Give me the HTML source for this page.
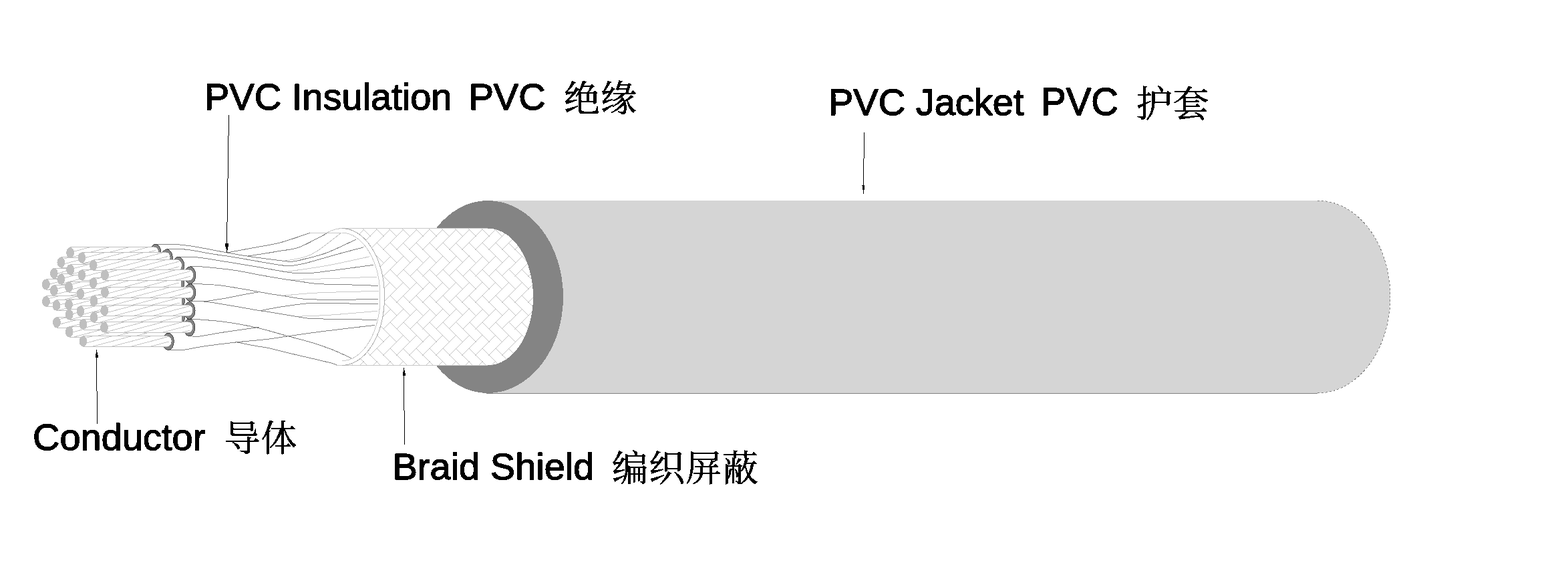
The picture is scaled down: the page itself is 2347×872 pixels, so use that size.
<!DOCTYPE html>
<html lang="zh"><head><meta charset="utf-8"><title>Cable structure</title>
<style>
html,body{margin:0;padding:0;background:#fff;}
body{width:2347px;height:872px;overflow:hidden;}
svg{display:block;}
text{white-space:pre;fill:#000;stroke:#000;stroke-linejoin:round;}
.lat{font-family:"Liberation Sans","Noto Serif CJK SC",sans-serif;stroke-width:1.4px;}
.cjk{font-family:"Liberation Serif","Noto Serif CJK SC",serif;stroke-width:0.6px;letter-spacing:1px;}
</style></head>
<body>
<svg role="img" aria-label="Cable structure diagram" width="2347" height="872" viewBox="0 0 2347 872">
<g id="jacket" shape-rendering="crispEdges">
<path d="M730,300 L1972,300 A109,144 0 0 1 1972,588 L730,588 Z" fill="#d5d5d5"/>
<path d="M728,588.5 L1972,588.5" stroke="#808080" stroke-width="1" fill="none"/>
<path d="M1972,300 A109,144 0 0 1 1972,588" stroke="#828282" stroke-width="1" stroke-dasharray="3 3" fill="none"/>
<path d="M730,300 A113,144 0 0 1 730,588 A110,144 0 0 1 730,300 Z" fill="#848484"/>
</g>
<g id="braid" shape-rendering="crispEdges">
<defs><clipPath id="bc"><path d="M512,341.6 L730,341.6 A68,102.4 0 0 1 730,546.4 L512,546.4 A63.5,102.4 0 0 0 512,341.6 Z"/></clipPath></defs>
<path d="M498,341.6 L730,341.6 A68,102.4 0 0 1 730,546.4 L503,546.4 Z" fill="#fff"/>
<path clip-path="url(#bc)" d="M454.6,255.5l30.9,-30.9M465.5,245l29.6,29.6M454.6,294.9l30.9,-30.9M465.5,284.4l29.6,29.6M454.6,334.4l30.9,-30.9M465.5,323.9l29.6,29.6M454.6,373.9l30.9,-30.9M465.5,363.4l29.6,29.6M454.6,413.4l30.9,-30.9M465.5,402.9l29.6,29.6M454.6,452.9l30.9,-30.9M465.5,442.4l29.6,29.6M454.6,492.4l30.9,-30.9M465.5,481.9l29.6,29.6M454.6,531.9l30.9,-30.9M465.5,521.4l29.6,29.6M454.6,571.3l30.9,-30.9M465.5,560.8l29.6,29.6M474.3,255.5l30.9,-30.9M485.2,245l29.6,29.6M474.3,294.9l30.9,-30.9M485.2,284.4l29.6,29.6M474.3,334.4l30.9,-30.9M485.2,323.9l29.6,29.6M474.3,373.9l30.9,-30.9M485.2,363.4l29.6,29.6M474.3,413.4l30.9,-30.9M485.2,402.9l29.6,29.6M474.3,452.9l30.9,-30.9M485.2,442.4l29.6,29.6M474.3,492.4l30.9,-30.9M485.2,481.9l29.6,29.6M474.3,531.9l30.9,-30.9M485.2,521.4l29.6,29.6M474.3,571.3l30.9,-30.9M485.2,560.8l29.6,29.6M494,255.5l30.9,-30.9M504.9,245l29.6,29.6M494,294.9l30.9,-30.9M504.9,284.4l29.6,29.6M494,334.4l30.9,-30.9M504.9,323.9l29.6,29.6M494,373.9l30.9,-30.9M504.9,363.4l29.6,29.6M494,413.4l30.9,-30.9M504.9,402.9l29.6,29.6M494,452.9l30.9,-30.9M504.9,442.4l29.6,29.6M494,492.4l30.9,-30.9M504.9,481.9l29.6,29.6M494,531.9l30.9,-30.9M504.9,521.4l29.6,29.6M494,571.3l30.9,-30.9M504.9,560.8l29.6,29.6M513.8,255.5l30.9,-30.9M524.7,245l29.6,29.6M513.8,294.9l30.9,-30.9M524.7,284.4l29.6,29.6M513.8,334.4l30.9,-30.9M524.7,323.9l29.6,29.6M513.8,373.9l30.9,-30.9M524.7,363.4l29.6,29.6M513.8,413.4l30.9,-30.9M524.7,402.9l29.6,29.6M513.8,452.9l30.9,-30.9M524.7,442.4l29.6,29.6M513.8,492.4l30.9,-30.9M524.7,481.9l29.6,29.6M513.8,531.9l30.9,-30.9M524.7,521.4l29.6,29.6M513.8,571.3l30.9,-30.9M524.7,560.8l29.6,29.6M533.5,255.5l30.9,-30.9M544.4,245l29.6,29.6M533.5,294.9l30.9,-30.9M544.4,284.4l29.6,29.6M533.5,334.4l30.9,-30.9M544.4,323.9l29.6,29.6M533.5,373.9l30.9,-30.9M544.4,363.4l29.6,29.6M533.5,413.4l30.9,-30.9M544.4,402.9l29.6,29.6M533.5,452.9l30.9,-30.9M544.4,442.4l29.6,29.6M533.5,492.4l30.9,-30.9M544.4,481.9l29.6,29.6M533.5,531.9l30.9,-30.9M544.4,521.4l29.6,29.6M533.5,571.3l30.9,-30.9M544.4,560.8l29.6,29.6M553.3,255.5l30.9,-30.9M564.2,245l29.6,29.6M553.3,294.9l30.9,-30.9M564.2,284.4l29.6,29.6M553.3,334.4l30.9,-30.9M564.2,323.9l29.6,29.6M553.3,373.9l30.9,-30.9M564.2,363.4l29.6,29.6M553.3,413.4l30.9,-30.9M564.2,402.9l29.6,29.6M553.3,452.9l30.9,-30.9M564.2,442.4l29.6,29.6M553.3,492.4l30.9,-30.9M564.2,481.9l29.6,29.6M553.3,531.9l30.9,-30.9M564.2,521.4l29.6,29.6M553.3,571.3l30.9,-30.9M564.2,560.8l29.6,29.6M573,255.5l30.9,-30.9M583.9,245l29.6,29.6M573,294.9l30.9,-30.9M583.9,284.4l29.6,29.6M573,334.4l30.9,-30.9M583.9,323.9l29.6,29.6M573,373.9l30.9,-30.9M583.9,363.4l29.6,29.6M573,413.4l30.9,-30.9M583.9,402.9l29.6,29.6M573,452.9l30.9,-30.9M583.9,442.4l29.6,29.6M573,492.4l30.9,-30.9M583.9,481.9l29.6,29.6M573,531.9l30.9,-30.9M583.9,521.4l29.6,29.6M573,571.3l30.9,-30.9M583.9,560.8l29.6,29.6M592.8,255.5l30.9,-30.9M603.7,245l29.6,29.6M592.8,294.9l30.9,-30.9M603.7,284.4l29.6,29.6M592.8,334.4l30.9,-30.9M603.7,323.9l29.6,29.6M592.8,373.9l30.9,-30.9M603.7,363.4l29.6,29.6M592.8,413.4l30.9,-30.9M603.7,402.9l29.6,29.6M592.8,452.9l30.9,-30.9M603.7,442.4l29.6,29.6M592.8,492.4l30.9,-30.9M603.7,481.9l29.6,29.6M592.8,531.9l30.9,-30.9M603.7,521.4l29.6,29.6M592.8,571.3l30.9,-30.9M603.7,560.8l29.6,29.6M612.5,255.5l30.9,-30.9M623.4,245l29.6,29.6M612.5,294.9l30.9,-30.9M623.4,284.4l29.6,29.6M612.5,334.4l30.9,-30.9M623.4,323.9l29.6,29.6M612.5,373.9l30.9,-30.9M623.4,363.4l29.6,29.6M612.5,413.4l30.9,-30.9M623.4,402.9l29.6,29.6M612.5,452.9l30.9,-30.9M623.4,442.4l29.6,29.6M612.5,492.4l30.9,-30.9M623.4,481.9l29.6,29.6M612.5,531.9l30.9,-30.9M623.4,521.4l29.6,29.6M612.5,571.3l30.9,-30.9M623.4,560.8l29.6,29.6M632.2,255.5l30.9,-30.9M643.1,245l29.6,29.6M632.2,294.9l30.9,-30.9M643.1,284.4l29.6,29.6M632.2,334.4l30.9,-30.9M643.1,323.9l29.6,29.6M632.2,373.9l30.9,-30.9M643.1,363.4l29.6,29.6M632.2,413.4l30.9,-30.9M643.1,402.9l29.6,29.6M632.2,452.9l30.9,-30.9M643.1,442.4l29.6,29.6M632.2,492.4l30.9,-30.9M643.1,481.9l29.6,29.6M632.2,531.9l30.9,-30.9M643.1,521.4l29.6,29.6M632.2,571.3l30.9,-30.9M643.1,560.8l29.6,29.6M652,255.5l30.9,-30.9M662.9,245l29.6,29.6M652,294.9l30.9,-30.9M662.9,284.4l29.6,29.6M652,334.4l30.9,-30.9M662.9,323.9l29.6,29.6M652,373.9l30.9,-30.9M662.9,363.4l29.6,29.6M652,413.4l30.9,-30.9M662.9,402.9l29.6,29.6M652,452.9l30.9,-30.9M662.9,442.4l29.6,29.6M652,492.4l30.9,-30.9M662.9,481.9l29.6,29.6M652,531.9l30.9,-30.9M662.9,521.4l29.6,29.6M652,571.3l30.9,-30.9M662.9,560.8l29.6,29.6M671.7,255.5l30.9,-30.9M682.6,245l29.6,29.6M671.7,294.9l30.9,-30.9M682.6,284.4l29.6,29.6M671.7,334.4l30.9,-30.9M682.6,323.9l29.6,29.6M671.7,373.9l30.9,-30.9M682.6,363.4l29.6,29.6M671.7,413.4l30.9,-30.9M682.6,402.9l29.6,29.6M671.7,452.9l30.9,-30.9M682.6,442.4l29.6,29.6M671.7,492.4l30.9,-30.9M682.6,481.9l29.6,29.6M671.7,531.9l30.9,-30.9M682.6,521.4l29.6,29.6M671.7,571.3l30.9,-30.9M682.6,560.8l29.6,29.6M691.5,255.5l30.9,-30.9M702.4,245l29.6,29.6M691.5,294.9l30.9,-30.9M702.4,284.4l29.6,29.6M691.5,334.4l30.9,-30.9M702.4,323.9l29.6,29.6M691.5,373.9l30.9,-30.9M702.4,363.4l29.6,29.6M691.5,413.4l30.9,-30.9M702.4,402.9l29.6,29.6M691.5,452.9l30.9,-30.9M702.4,442.4l29.6,29.6M691.5,492.4l30.9,-30.9M702.4,481.9l29.6,29.6M691.5,531.9l30.9,-30.9M702.4,521.4l29.6,29.6M691.5,571.3l30.9,-30.9M702.4,560.8l29.6,29.6M711.2,255.5l30.9,-30.9M722.1,245l29.6,29.6M711.2,294.9l30.9,-30.9M722.1,284.4l29.6,29.6M711.2,334.4l30.9,-30.9M722.1,323.9l29.6,29.6M711.2,373.9l30.9,-30.9M722.1,363.4l29.6,29.6M711.2,413.4l30.9,-30.9M722.1,402.9l29.6,29.6M711.2,452.9l30.9,-30.9M722.1,442.4l29.6,29.6M711.2,492.4l30.9,-30.9M722.1,481.9l29.6,29.6M711.2,531.9l30.9,-30.9M722.1,521.4l29.6,29.6M711.2,571.3l30.9,-30.9M722.1,560.8l29.6,29.6M731,255.5l30.9,-30.9M741.9,245l29.6,29.6M731,294.9l30.9,-30.9M741.9,284.4l29.6,29.6M731,334.4l30.9,-30.9M741.9,323.9l29.6,29.6M731,373.9l30.9,-30.9M741.9,363.4l29.6,29.6M731,413.4l30.9,-30.9M741.9,402.9l29.6,29.6M731,452.9l30.9,-30.9M741.9,442.4l29.6,29.6M731,492.4l30.9,-30.9M741.9,481.9l29.6,29.6M731,531.9l30.9,-30.9M741.9,521.4l29.6,29.6M731,571.3l30.9,-30.9M741.9,560.8l29.6,29.6M750.7,255.5l30.9,-30.9M761.6,245l29.6,29.6M750.7,294.9l30.9,-30.9M761.6,284.4l29.6,29.6M750.7,334.4l30.9,-30.9M761.6,323.9l29.6,29.6M750.7,373.9l30.9,-30.9M761.6,363.4l29.6,29.6M750.7,413.4l30.9,-30.9M761.6,402.9l29.6,29.6M750.7,452.9l30.9,-30.9M761.6,442.4l29.6,29.6M750.7,492.4l30.9,-30.9M761.6,481.9l29.6,29.6M750.7,531.9l30.9,-30.9M761.6,521.4l29.6,29.6M750.7,571.3l30.9,-30.9M761.6,560.8l29.6,29.6M770.4,255.5l30.9,-30.9M781.3,245l29.6,29.6M770.4,294.9l30.9,-30.9M781.3,284.4l29.6,29.6M770.4,334.4l30.9,-30.9M781.3,323.9l29.6,29.6M770.4,373.9l30.9,-30.9M781.3,363.4l29.6,29.6M770.4,413.4l30.9,-30.9M781.3,402.9l29.6,29.6M770.4,452.9l30.9,-30.9M781.3,442.4l29.6,29.6M770.4,492.4l30.9,-30.9M781.3,481.9l29.6,29.6M770.4,531.9l30.9,-30.9M781.3,521.4l29.6,29.6M770.4,571.3l30.9,-30.9M781.3,560.8l29.6,29.6M790.2,255.5l30.9,-30.9M801.1,245l29.6,29.6M790.2,294.9l30.9,-30.9M801.1,284.4l29.6,29.6M790.2,334.4l30.9,-30.9M801.1,323.9l29.6,29.6M790.2,373.9l30.9,-30.9M801.1,363.4l29.6,29.6M790.2,413.4l30.9,-30.9M801.1,402.9l29.6,29.6M790.2,452.9l30.9,-30.9M801.1,442.4l29.6,29.6M790.2,492.4l30.9,-30.9M801.1,481.9l29.6,29.6M790.2,531.9l30.9,-30.9M801.1,521.4l29.6,29.6M790.2,571.3l30.9,-30.9M801.1,560.8l29.6,29.6M809.9,255.5l30.9,-30.9M820.8,245l29.6,29.6M809.9,294.9l30.9,-30.9M820.8,284.4l29.6,29.6M809.9,334.4l30.9,-30.9M820.8,323.9l29.6,29.6M809.9,373.9l30.9,-30.9M820.8,363.4l29.6,29.6M809.9,413.4l30.9,-30.9M820.8,402.9l29.6,29.6M809.9,452.9l30.9,-30.9M820.8,442.4l29.6,29.6M809.9,492.4l30.9,-30.9M820.8,481.9l29.6,29.6M809.9,531.9l30.9,-30.9M820.8,521.4l29.6,29.6M809.9,571.3l30.9,-30.9M820.8,560.8l29.6,29.6M829.7,255.5l30.9,-30.9M840.6,245l29.6,29.6M829.7,294.9l30.9,-30.9M840.6,284.4l29.6,29.6M829.7,334.4l30.9,-30.9M840.6,323.9l29.6,29.6M829.7,373.9l30.9,-30.9M840.6,363.4l29.6,29.6M829.7,413.4l30.9,-30.9M840.6,402.9l29.6,29.6M829.7,452.9l30.9,-30.9M840.6,442.4l29.6,29.6M829.7,492.4l30.9,-30.9M840.6,481.9l29.6,29.6M829.7,531.9l30.9,-30.9M840.6,521.4l29.6,29.6M829.7,571.3l30.9,-30.9M840.6,560.8l29.6,29.6" stroke="#ababab" stroke-width="0.7" fill="none"/>
<path d="M509,341.6 L730,341.6 M503,546.4 L730,546.4" stroke="#c8c8c8" stroke-width="1" fill="none"/>
<path d="M512,341.6 A63.5,102.4 0 0 1 512,546.4" stroke="#ababab" stroke-width="1" fill="none"/>
<path d="M512,348.3 A57,95.7 0 0 1 512,539.7" stroke="#c8c8c8" stroke-width="1" fill="none"/>
<path d="M488.8,348.3 C490.6,347.5 496.4,344.7 499.8,343.6 C503.2,342.5 507.8,342 509.4,341.7" stroke="#c8c8c8" stroke-width="1" fill="none"/>
<path d="M464,348.3 L511,348.3" stroke="#c8c8c8" stroke-width="1" fill="none"/>
</g>
<g id="wires" fill="none" shape-rendering="crispEdges">
<path d="M424.1,390.5 C429.2,389.6 445.9,387.5 454.4,385 C462.9,382.5 465.8,381.3 475,375.4 C484.2,369.4 503.7,353.6 509.4,349.3 M428.3,406.4 C438.4,404.9 467.9,401.2 488.8,397.4 C509.7,393.6 542.7,386 553.5,383.7 M431,418.8 C440.6,418.4 466.7,417.5 488.8,416.7 C510.9,415.9 551.3,414.6 563.8,414.2 M425.5,442.1 C433.8,441.4 451.5,439.1 475,438 C498.5,436.9 551.2,435.8 566.5,435.3 M444,473.3 C452.7,472.9 476.2,472.4 496.4,471 C516.6,469.6 553.7,466.2 565.2,465.2" stroke="#c8c8c8" stroke-width="1"/>
<path d="M231.9,365.4 C237.2,365.4 253.7,365 264,365.6 C274.3,366.2 281.2,367.2 293.8,369.3 C306.4,371.4 326.3,375.5 339.7,377.9 C353.1,380.3 359.9,381.6 374,383.7 C388.1,385.8 415.7,389.2 424,390.3 M250.2,372.4 C255.2,372.5 268.9,372.1 280,373.3 C291.1,374.5 304.8,377.8 316.7,379.7 C328.6,381.6 337.2,382.5 351.1,384.8 C365,387.1 387.7,391.3 400,393.4 C412.3,395.5 418.7,396.5 425,397.2 C431.3,397.9 431.8,398.2 437.9,397.4 C443.9,396.6 450.5,395.4 461.3,392.6 C472.1,389.9 488.9,384.7 502.6,380.9 C516.4,377.1 536.9,371.7 543.8,369.9 M370.6,383.1 C375.5,382.4 391.8,379.9 400,378.6 C408.2,377.3 412.1,376.6 420,375.1 C427.9,373.7 436,374.2 447.5,369.9 C459,365.6 481.9,352.7 488.8,349.3 M339.7,377.9 C346.4,376.7 366.6,373 380,370.5 C393.4,368 406,366.4 420,362.7 C434,359 456.7,350.7 464,348.3 M424.1,390.5 C426.4,390.6 432.8,391.6 437.9,391.2 C442.9,390.8 445.9,390 454.4,387.8 C462.9,385.6 475.7,383.1 488.8,378.2 C501.9,373.3 525.5,361.5 532.8,358.2 M268.6,384.6 C273.2,384.7 284.2,383.8 296.1,385 C308,386.2 325.7,389.5 339.7,391.7 C353.7,393.9 366.6,396 380,398.3 C393.4,400.6 409.9,403.7 420,405.4 C430.1,407.1 433,407.9 440.6,408.4 C448.2,408.9 457.4,408.8 465.4,408.4 C473.4,407.9 473.2,407.7 488.8,405.7 C504.4,403.7 547.3,397.9 559,396.3 M284.6,398.3 C288.1,398.4 294.2,398.2 305.3,399.2 C316.4,400.2 337,402.2 351.1,404.3 C365.2,406.4 378.5,409.4 390,411.5 C401.5,413.6 410.4,415.1 420,416.7 C429.6,418.2 437.9,419.5 447.5,420.8 C457.1,422.1 465.2,423.9 477.8,424.7 C490.4,425.5 508.5,425.4 523.2,425.9 C537.9,426.3 558.8,427.1 565.9,427.4 M289.2,424.4 C295.7,424.8 314,425.1 328.2,426.7 C342.4,428.3 361,431.9 374.1,434.1 C387.2,436.3 398.4,438.6 406.9,440 C415.4,441.4 417,441.4 425,442.6 C433,443.8 443.2,446.2 455.1,447.2 C467,448.1 477.9,448.2 496.4,448.3 C514.9,448.4 554.3,447.7 565.9,447.6 M285.8,450.9 C289.4,450.8 298.6,451.4 307.6,450.5 C316.6,449.6 329.6,447.4 339.7,445.7 C349.8,443.9 360.3,441.5 368.3,440 C376.3,438.5 384.6,437.2 387.8,436.7 M285.8,450.9 C289.4,450.9 298.6,450.3 307.6,451.2 C316.6,452.1 326.7,454 339.7,456.1 C352.7,458.2 375.6,462.4 385.6,464.1 C395.7,465.8 390.7,464.7 400,466.2 C409.3,467.7 430.5,471.3 441.3,473 C452.1,474.7 454.4,475.8 464.7,476.5 C475,477.2 486.7,476.9 503.2,477.2 C519.7,477.5 553.7,478.3 563.8,478.5 M392.4,464.1 C397.8,463.1 412.7,460.1 425,458.3 C437.3,456.5 452.8,454.1 466.1,453.4 C479.4,452.6 488,453.6 504.6,453.8 C521.2,454 555.7,454.4 565.9,454.5 M286.9,477.3 C290,477.5 296.5,477.6 305.3,478.4 C314.1,479.2 326.3,479.9 339.7,481.9 C353.1,483.9 370.5,486.9 385.6,490.4 C400.7,493.8 416.9,499 430.3,502.6 C443.7,506.2 455.1,508.9 466.1,512.2 C477.1,515.5 486.4,518.7 496.4,522.6 C506.4,526.5 521,533.5 525.9,535.7 M288.1,503.4 C289.4,503.4 287.5,504.6 296.1,503.4 C304.7,502.2 324.4,498.5 339.7,496.2 C355,493.9 379.8,490.4 387.8,489.3 M253.7,523.5 C256.9,523.5 264.6,524.4 273.2,523.5 C281.8,522.6 292.3,519.9 305.3,518 C318.3,516.1 335.3,514 351.1,512.2 C366.9,510.4 386.8,508.9 400,507.4 C413.2,505.9 416.5,504.9 430.3,503 C444.1,501.1 460.8,498.5 482.6,495.7 C504.4,492.9 547.9,487.9 561,486.4 M352.3,511.4 C357.9,512.5 377.7,516.5 385.6,518 C393.6,519.5 390.7,518.2 400,520.2 C409.3,522.2 425.2,526.4 441.3,530.2 C457.4,534 486.1,540.5 496.4,543.2 C506.7,545.9 502.1,545.8 503.2,546.3" stroke="#828282" stroke-width="1"/>
</g>
<g id="conductor" shape-rendering="crispEdges">
<ellipse cx="196.4" cy="425.7" rx="8.4" ry="12.9" fill="#848484" stroke="#2a2a2a" stroke-width="0.8"/>
<path d="M68.9,417.5 L195.2,417.5 A5.9,7.9 0 0 1 195.2,433.3 L68.9,433.3 Z" fill="#fff"/>
<path d="M68.9,418.8L73.9,417.5M68.9,426.5L102.9,417.5M72.3,433.3L131.9,417.5M101.3,433.3L160.9,417.5M130.3,433.3L189.9,417.5M159.3,433.3L197.2,423.3M188.3,433.3L197.2,430.9" stroke="#c6c6c6" stroke-width="1" fill="none"/>
<path d="M68.9,417.5 L195.2,417.5 M68.9,433.3 L195.2,433.3" stroke="#bfbfbf" stroke-width="1" fill="none"/>
<ellipse cx="68.9" cy="425.4" rx="5.9" ry="7.9" fill="#bfbfbf"/>
<ellipse cx="196.4" cy="451.1" rx="8.4" ry="12.9" fill="#848484" stroke="#2a2a2a" stroke-width="0.8"/>
<path d="M68.9,442.9 L195.2,442.9 A5.9,7.9 0 0 1 195.2,458.7 L68.9,458.7 Z" fill="#fff"/>
<path d="M68.9,447.7L86.9,442.9M68.9,455.4L115.9,442.9M85.3,458.7L144.9,442.9M114.3,458.7L173.9,442.9M143.3,458.7L197.2,444.4M172.3,458.7L197.2,452.1" stroke="#c6c6c6" stroke-width="1" fill="none"/>
<path d="M68.9,442.9 L195.2,442.9 M68.9,458.7 L195.2,458.7" stroke="#bfbfbf" stroke-width="1" fill="none"/>
<ellipse cx="68.9" cy="450.8" rx="5.9" ry="7.9" fill="#bfbfbf"/>
<ellipse cx="208.3" cy="409.3" rx="8.4" ry="12.9" fill="#848484" stroke="#2a2a2a" stroke-width="0.8"/>
<path d="M80.8,401.1 L207.1,401.1 A5.9,7.9 0 0 1 207.1,416.9 L80.8,416.9 Z" fill="#fff"/>
<path d="M80.8,402.7L86.8,401.1M80.8,410.4L115.8,401.1M85.2,416.9L144.8,401.1M114.2,416.9L173.8,401.1M143.2,416.9L202.8,401.1M172.2,416.9L209.1,407.1M201.2,416.9L209.1,414.8" stroke="#c6c6c6" stroke-width="1" fill="none"/>
<path d="M80.8,401.1 L207.1,401.1 M80.8,416.9 L207.1,416.9" stroke="#bfbfbf" stroke-width="1" fill="none"/>
<ellipse cx="80.8" cy="409" rx="5.9" ry="7.9" fill="#bfbfbf"/>
<ellipse cx="208.3" cy="434.6" rx="8.4" ry="12.9" fill="#848484" stroke="#2a2a2a" stroke-width="0.8"/>
<path d="M80.8,426.4 L207.1,426.4 A5.9,7.9 0 0 1 207.1,442.2 L80.8,442.2 Z" fill="#fff"/>
<path d="M80.8,433.3L106.8,426.4M80.8,441L135.8,426.4M105.2,442.2L164.8,426.4M134.2,442.2L193.8,426.4M163.2,442.2L209.1,430M192.2,442.2L209.1,437.7" stroke="#c6c6c6" stroke-width="1" fill="none"/>
<path d="M80.8,426.4 L207.1,426.4 M80.8,442.2 L207.1,442.2" stroke="#bfbfbf" stroke-width="1" fill="none"/>
<ellipse cx="80.8" cy="434.3" rx="5.9" ry="7.9" fill="#bfbfbf"/>
<ellipse cx="211.9" cy="457.1" rx="8.4" ry="12.9" fill="#848484" stroke="#2a2a2a" stroke-width="0.8"/>
<path d="M84.4,448.9 L210.7,448.9 A5.9,7.9 0 0 1 210.7,464.7 L84.4,464.7 Z" fill="#fff"/>
<path d="M84.4,457.4L116.4,448.9M85.8,464.7L145.4,448.9M114.8,464.7L174.4,448.9M143.8,464.7L203.4,448.9M172.8,464.7L212.7,454.1M201.8,464.7L212.7,461.8" stroke="#c6c6c6" stroke-width="1" fill="none"/>
<path d="M84.4,448.9 L210.7,448.9 M84.4,464.7 L210.7,464.7" stroke="#bfbfbf" stroke-width="1" fill="none"/>
<ellipse cx="84.4" cy="456.8" rx="5.9" ry="7.9" fill="#bfbfbf"/>
<ellipse cx="212.4" cy="482.6" rx="8.4" ry="12.9" fill="#848484" stroke="#2a2a2a" stroke-width="0.8"/>
<path d="M84.9,474.4 L211.2,474.4 A5.9,7.9 0 0 1 211.2,490.2 L84.9,490.2 Z" fill="#fff"/>
<path d="M84.9,478.6L100.9,474.4M84.9,486.3L129.9,474.4M99.3,490.2L158.9,474.4M128.3,490.2L187.9,474.4M157.3,490.2L213.2,475.4M186.3,490.2L213.2,483.1" stroke="#c6c6c6" stroke-width="1" fill="none"/>
<path d="M84.9,474.4 L211.2,474.4 M84.9,490.2 L211.2,490.2" stroke="#bfbfbf" stroke-width="1" fill="none"/>
<ellipse cx="84.9" cy="482.3" rx="5.9" ry="7.9" fill="#bfbfbf"/>
<ellipse cx="218.8" cy="392.8" rx="8.4" ry="12.9" fill="#848484" stroke="#2a2a2a" stroke-width="0.8"/>
<path d="M91.3,384.6 L217.6,384.6 A5.9,7.9 0 0 1 217.6,400.4 L91.3,400.4 Z" fill="#fff"/>
<path d="M91.3,388.3L105.3,384.6M91.3,396L134.3,384.6M103.7,400.4L163.3,384.6M132.7,400.4L192.3,384.6M161.7,400.4L219.6,385.1M190.7,400.4L219.6,392.7" stroke="#c6c6c6" stroke-width="1" fill="none"/>
<path d="M91.3,384.6 L217.6,384.6 M91.3,400.4 L217.6,400.4" stroke="#bfbfbf" stroke-width="1" fill="none"/>
<ellipse cx="91.3" cy="392.5" rx="5.9" ry="7.9" fill="#bfbfbf"/>
<ellipse cx="218.8" cy="418.1" rx="8.4" ry="12.9" fill="#848484" stroke="#2a2a2a" stroke-width="0.8"/>
<path d="M91.3,409.9 L217.6,409.9 A5.9,7.9 0 0 1 217.6,425.7 L91.3,425.7 Z" fill="#fff"/>
<path d="M91.3,417.1L118.3,409.9M91.3,424.7L147.3,409.9M116.7,425.7L176.3,409.9M145.7,425.7L205.3,409.9M174.7,425.7L219.6,413.8M203.7,425.7L219.6,421.5" stroke="#c6c6c6" stroke-width="1" fill="none"/>
<path d="M91.3,409.9 L217.6,409.9 M91.3,425.7 L217.6,425.7" stroke="#bfbfbf" stroke-width="1" fill="none"/>
<ellipse cx="91.3" cy="417.8" rx="5.9" ry="7.9" fill="#bfbfbf"/>
<ellipse cx="230.5" cy="429.7" rx="8.4" ry="12.9" fill="#848484" stroke="#2a2a2a" stroke-width="0.8"/>
<path d="M103,421.5 L229.3,421.5 A5.9,7.9 0 0 1 229.3,437.3 L103,437.3 Z" fill="#fff"/>
<path d="M103,426.5L122,421.5M103,434.2L151,421.5M120.4,437.3L180,421.5M149.4,437.3L209,421.5M178.4,437.3L231.3,423.3M207.4,437.3L231.3,431" stroke="#c6c6c6" stroke-width="1" fill="none"/>
<path d="M103,421.5 L229.3,421.5 M103,437.3 L229.3,437.3" stroke="#bfbfbf" stroke-width="1" fill="none"/>
<ellipse cx="103" cy="429.4" rx="5.9" ry="7.9" fill="#bfbfbf"/>
<ellipse cx="230.5" cy="455.8" rx="8.4" ry="12.9" fill="#848484" stroke="#2a2a2a" stroke-width="0.8"/>
<path d="M103,447.6 L229.3,447.6 A5.9,7.9 0 0 1 229.3,463.4 L103,463.4 Z" fill="#fff"/>
<path d="M103,450.2L113,447.6M103,457.9L142,447.6M111.4,463.4L171,447.6M140.4,463.4L200,447.6M169.4,463.4L229,447.6M198.4,463.4L231.3,454.7M227.4,463.4L231.3,462.4" stroke="#c6c6c6" stroke-width="1" fill="none"/>
<path d="M103,447.6 L229.3,447.6 M103,463.4 L229.3,463.4" stroke="#bfbfbf" stroke-width="1" fill="none"/>
<ellipse cx="103" cy="455.5" rx="5.9" ry="7.9" fill="#bfbfbf"/>
<ellipse cx="231.2" cy="470.8" rx="8.4" ry="12.9" fill="#848484" stroke="#2a2a2a" stroke-width="0.8"/>
<path d="M103.7,462.6 L230,462.6 A5.9,7.9 0 0 1 230,478.4 L103.7,478.4 Z" fill="#fff"/>
<path d="M103.7,470.8L134.7,462.6M104.1,478.4L163.7,462.6M133.1,478.4L192.7,462.6M162.1,478.4L221.7,462.6M191.1,478.4L232,467.6M220.1,478.4L232,475.2" stroke="#c6c6c6" stroke-width="1" fill="none"/>
<path d="M103.7,462.6 L230,462.6 M103.7,478.4 L230,478.4" stroke="#bfbfbf" stroke-width="1" fill="none"/>
<ellipse cx="103.7" cy="470.5" rx="5.9" ry="7.9" fill="#bfbfbf"/>
<path d="M103.7,488.4 L230,488.4 A5.9,7.9 0 0 1 230,504.2 L103.7,504.2 Z" fill="#fff"/>
<path d="M103.7,490.5L111.7,488.4M103.7,498.2L140.7,488.4M110.1,504.2L169.7,488.4M139.1,504.2L198.7,488.4M168.1,504.2L227.7,488.4M197.1,504.2L232,494.9M226.1,504.2L232,502.6" stroke="#c6c6c6" stroke-width="1" fill="none"/>
<path d="M103.7,488.4 L230,488.4 M103.7,504.2 L230,504.2" stroke="#bfbfbf" stroke-width="1" fill="none"/>
<ellipse cx="103.7" cy="496.3" rx="5.9" ry="7.9" fill="#bfbfbf"/>
<ellipse cx="232.6" cy="378.1" rx="8.4" ry="12.9" fill="#848484" stroke="#2a2a2a" stroke-width="0.8"/>
<path d="M105.1,369.9 L231.4,369.9 A5.9,7.9 0 0 1 231.4,385.7 L105.1,385.7 Z" fill="#fff"/>
<path d="M105.1,377.6L134.1,369.9M105.1,385.3L163.1,369.9M132.5,385.7L192.1,369.9M161.5,385.7L221.1,369.9M190.5,385.7L233.4,374.3M219.5,385.7L233.4,382" stroke="#c6c6c6" stroke-width="1" fill="none"/>
<path d="M105.1,369.9 L231.4,369.9 M105.1,385.7 L231.4,385.7" stroke="#bfbfbf" stroke-width="1" fill="none"/>
<ellipse cx="105.1" cy="377.8" rx="5.9" ry="7.9" fill="#bfbfbf"/>
<ellipse cx="232.6" cy="403.7" rx="8.4" ry="12.9" fill="#848484" stroke="#2a2a2a" stroke-width="0.8"/>
<path d="M105.1,395.5 L231.4,395.5 A5.9,7.9 0 0 1 231.4,411.3 L105.1,411.3 Z" fill="#fff"/>
<path d="M105.1,402.9L133.1,395.5M105.1,410.6L162.1,395.5M131.5,411.3L191.1,395.5M160.5,411.3L220.1,395.5M189.5,411.3L233.4,399.7M218.5,411.3L233.4,407.3" stroke="#c6c6c6" stroke-width="1" fill="none"/>
<path d="M105.1,395.5 L231.4,395.5 M105.1,411.3 L231.4,411.3" stroke="#bfbfbf" stroke-width="1" fill="none"/>
<ellipse cx="105.1" cy="403.4" rx="5.9" ry="7.9" fill="#bfbfbf"/>
<ellipse cx="247.9" cy="439.8" rx="8.4" ry="12.9" fill="#848484" stroke="#2a2a2a" stroke-width="0.8"/>
<path d="M120.4,431.6 L246.7,431.6 A5.9,7.9 0 0 1 246.7,447.4 L120.4,447.4 Z" fill="#fff"/>
<path d="M120.4,432.7L124.4,431.6M120.4,440.3L153.4,431.6M122.8,447.4L182.4,431.6M151.8,447.4L211.4,431.6M180.8,447.4L240.4,431.6M209.8,447.4L248.7,437.1M238.8,447.4L248.7,444.8" stroke="#c6c6c6" stroke-width="1" fill="none"/>
<path d="M120.4,431.6 L246.7,431.6 M120.4,447.4 L246.7,447.4" stroke="#bfbfbf" stroke-width="1" fill="none"/>
<ellipse cx="120.4" cy="439.5" rx="5.9" ry="7.9" fill="#bfbfbf"/>
<ellipse cx="247.9" cy="465.6" rx="8.4" ry="12.9" fill="#848484" stroke="#2a2a2a" stroke-width="0.8"/>
<path d="M120.4,457.4 L246.7,457.4 A5.9,7.9 0 0 1 246.7,473.2 L120.4,473.2 Z" fill="#fff"/>
<path d="M120.4,463.8L144.4,457.4M120.4,471.4L173.4,457.4M142.8,473.2L202.4,457.4M171.8,473.2L231.4,457.4M200.8,473.2L248.7,460.5M229.8,473.2L248.7,468.2" stroke="#c6c6c6" stroke-width="1" fill="none"/>
<path d="M120.4,457.4 L246.7,457.4 M120.4,473.2 L246.7,473.2" stroke="#bfbfbf" stroke-width="1" fill="none"/>
<ellipse cx="120.4" cy="465.3" rx="5.9" ry="7.9" fill="#bfbfbf"/>
<ellipse cx="249.9" cy="385.6" rx="8.4" ry="12.9" fill="#848484" stroke="#2a2a2a" stroke-width="0.8"/>
<path d="M122.4,377.4 L248.7,377.4 A5.9,7.9 0 0 1 248.7,393.2 L122.4,393.2 Z" fill="#fff"/>
<path d="M122.4,379.3L129.4,377.4M122.4,386.9L158.4,377.4M127.8,393.2L187.4,377.4M156.8,393.2L216.4,377.4M185.8,393.2L245.4,377.4M214.8,393.2L250.7,383.7M243.8,393.2L250.7,391.4" stroke="#c6c6c6" stroke-width="1" fill="none"/>
<path d="M122.4,377.4 L248.7,377.4 M122.4,393.2 L248.7,393.2" stroke="#bfbfbf" stroke-width="1" fill="none"/>
<ellipse cx="122.4" cy="385.3" rx="5.9" ry="7.9" fill="#bfbfbf"/>
<ellipse cx="249.9" cy="411.6" rx="8.4" ry="12.9" fill="#848484" stroke="#2a2a2a" stroke-width="0.8"/>
<path d="M122.4,403.4 L248.7,403.4 A5.9,7.9 0 0 1 248.7,419.2 L122.4,419.2 Z" fill="#fff"/>
<path d="M122.4,406.8L135.4,403.4M122.4,414.5L164.4,403.4M133.8,419.2L193.4,403.4M162.8,419.2L222.4,403.4M191.8,419.2L250.7,403.6M220.8,419.2L250.7,411.3" stroke="#c6c6c6" stroke-width="1" fill="none"/>
<path d="M122.4,403.4 L248.7,403.4 M122.4,419.2 L248.7,419.2" stroke="#bfbfbf" stroke-width="1" fill="none"/>
<ellipse cx="122.4" cy="411.3" rx="5.9" ry="7.9" fill="#bfbfbf"/>
<ellipse cx="251.9" cy="510.8" rx="8.4" ry="12.9" fill="#848484" stroke="#2a2a2a" stroke-width="0.8"/>
<path d="M124.4,502.6 L250.7,502.6 A5.9,7.9 0 0 1 250.7,518.4 L124.4,518.4 Z" fill="#fff"/>
<path d="M124.4,506.6L139.4,502.6M124.4,514.3L168.4,502.6M137.8,518.4L197.4,502.6M166.8,518.4L226.4,502.6M195.8,518.4L252.7,503.3M224.8,518.4L252.7,511" stroke="#c6c6c6" stroke-width="1" fill="none"/>
<path d="M124.4,502.6 L250.7,502.6 M124.4,518.4 L250.7,518.4" stroke="#bfbfbf" stroke-width="1" fill="none"/>
<ellipse cx="124.4" cy="510.5" rx="5.9" ry="7.9" fill="#bfbfbf"/>
<ellipse cx="252" cy="485.4" rx="8.4" ry="12.9" fill="#848484" stroke="#2a2a2a" stroke-width="0.8"/>
<path d="M124.5,477.2 L250.8,477.2 A5.9,7.9 0 0 1 250.8,493 L124.5,493 Z" fill="#fff"/>
<path d="M124.5,483.3L147.5,477.2M124.5,491L176.5,477.2M145.9,493L205.5,477.2M174.9,493L234.5,477.2M203.9,493L252.8,480M232.9,493L252.8,487.7" stroke="#c6c6c6" stroke-width="1" fill="none"/>
<path d="M124.5,477.2 L250.8,477.2 M124.5,493 L250.8,493" stroke="#bfbfbf" stroke-width="1" fill="none"/>
<ellipse cx="124.5" cy="485.1" rx="5.9" ry="7.9" fill="#bfbfbf"/>
<ellipse cx="267.2" cy="397" rx="8.4" ry="12.9" fill="#848484" stroke="#2a2a2a" stroke-width="0.8"/>
<path d="M139.7,388.8 L266,388.8 A5.9,7.9 0 0 1 266,404.6 L139.7,404.6 Z" fill="#fff"/>
<path d="M139.7,394.4L160.7,388.8M139.7,402L189.7,388.8M159.1,404.6L218.7,388.8M188.1,404.6L247.7,388.8M217.1,404.6L268,391.1M246.1,404.6L268,398.8" stroke="#c6c6c6" stroke-width="1" fill="none"/>
<path d="M139.7,388.8 L266,388.8 M139.7,404.6 L266,404.6" stroke="#bfbfbf" stroke-width="1" fill="none"/>
<ellipse cx="139.7" cy="396.7" rx="5.9" ry="7.9" fill="#bfbfbf"/>
<ellipse cx="267.2" cy="423.5" rx="8.4" ry="12.9" fill="#848484" stroke="#2a2a2a" stroke-width="0.8"/>
<path d="M139.7,415.3 L270.9,415.3 L270.9,431.1 L139.7,431.1 Z" fill="#fff"/>
<path d="M139.7,418.5L151.7,415.3M139.7,426.2L180.7,415.3M150.1,431.1L209.7,415.3M179.1,431.1L238.7,415.3M208.1,431.1L267.7,415.3M237.1,431.1L268,422.9" stroke="#c6c6c6" stroke-width="1" fill="none"/>
<path d="M139.7,415.3 L266,415.3 M139.7,431.1 L266,431.1" stroke="#bfbfbf" stroke-width="1" fill="none"/>
<ellipse cx="139.7" cy="423.2" rx="5.9" ry="7.9" fill="#bfbfbf"/>
<ellipse cx="268" cy="450.1" rx="8.4" ry="12.9" fill="#848484" stroke="#2a2a2a" stroke-width="0.8"/>
<path d="M140.5,441.9 L271.7,441.9 L271.7,457.7 L140.5,457.7 Z" fill="#fff"/>
<path d="M140.5,448.5L165.5,441.9M140.5,456.2L194.5,441.9M163.9,457.7L223.5,441.9M192.9,457.7L252.5,441.9M221.9,457.7L268.8,445.3M250.9,457.7L268.8,453" stroke="#c6c6c6" stroke-width="1" fill="none"/>
<path d="M140.5,441.9 L266.8,441.9 M140.5,457.7 L266.8,457.7" stroke="#bfbfbf" stroke-width="1" fill="none"/>
<ellipse cx="140.5" cy="449.8" rx="5.9" ry="7.9" fill="#bfbfbf"/>
<ellipse cx="268" cy="474.9" rx="8.4" ry="12.9" fill="#848484" stroke="#2a2a2a" stroke-width="0.8"/>
<path d="M140.5,466.7 L271.7,466.7 L271.7,482.5 L140.5,482.5 Z" fill="#fff"/>
<path d="M140.5,469.1L149.5,466.7M140.5,476.8L178.5,466.7M147.9,482.5L207.5,466.7M176.9,482.5L236.5,466.7M205.9,482.5L265.5,466.7M234.9,482.5L268.8,473.5M263.9,482.5L268.8,481.2" stroke="#c6c6c6" stroke-width="1" fill="none"/>
<path d="M140.5,466.7 L266.8,466.7 M140.5,482.5 L266.8,482.5" stroke="#bfbfbf" stroke-width="1" fill="none"/>
<ellipse cx="140.5" cy="474.6" rx="5.9" ry="7.9" fill="#bfbfbf"/>
<ellipse cx="283.5" cy="489.9" rx="8.4" ry="12.9" fill="#848484" stroke="#2a2a2a" stroke-width="0.8"/>
<path d="M156,481.7 L282.3,481.7 A5.9,7.9 0 0 1 282.3,497.5 L156,497.5 Z" fill="#fff"/>
<path d="M156,489.6L186,481.7M156,497.3L215,481.7M184.4,497.5L244,481.7M213.4,497.5L273,481.7M242.4,497.5L284.3,486.4M271.4,497.5L284.3,494.1" stroke="#c6c6c6" stroke-width="1" fill="none"/>
<path d="M156,481.7 L282.3,481.7 M156,497.5 L282.3,497.5" stroke="#bfbfbf" stroke-width="1" fill="none"/>
<ellipse cx="156" cy="489.6" rx="5.9" ry="7.9" fill="#bfbfbf"/>
<ellipse cx="283.7" cy="464.6" rx="8.4" ry="12.9" fill="#848484" stroke="#2a2a2a" stroke-width="0.8"/>
<path d="M156.2,456.4 L282.5,456.4 A5.9,7.9 0 0 1 282.5,472.2 L156.2,472.2 Z" fill="#fff"/>
<path d="M156.2,460.9L173.2,456.4M156.2,468.6L202.2,456.4M171.6,472.2L231.2,456.4M200.6,472.2L260.2,456.4M229.6,472.2L284.5,457.6M258.6,472.2L284.5,465.3" stroke="#c6c6c6" stroke-width="1" fill="none"/>
<path d="M156.2,456.4 L282.5,456.4 M156.2,472.2 L282.5,472.2" stroke="#bfbfbf" stroke-width="1" fill="none"/>
<ellipse cx="156.2" cy="464.3" rx="5.9" ry="7.9" fill="#bfbfbf"/>
<ellipse cx="284.5" cy="411.7" rx="8.4" ry="12.9" fill="#848484" stroke="#2a2a2a" stroke-width="0.8"/>
<path d="M157,403.5 L283.3,403.5 A5.9,7.9 0 0 1 283.3,419.3 L157,419.3 Z" fill="#fff"/>
<path d="M157,408.8L177,403.5M157,416.5L206,403.5M175.4,419.3L235,403.5M204.4,419.3L264,403.5M233.4,419.3L285.3,405.5M262.4,419.3L285.3,413.2" stroke="#c6c6c6" stroke-width="1" fill="none"/>
<path d="M157,403.5 L283.3,403.5 M157,419.3 L283.3,419.3" stroke="#bfbfbf" stroke-width="1" fill="none"/>
<ellipse cx="157" cy="411.4" rx="5.9" ry="7.9" fill="#bfbfbf"/>
<ellipse cx="284.5" cy="437.7" rx="8.4" ry="12.9" fill="#848484" stroke="#2a2a2a" stroke-width="0.8"/>
<path d="M157,429.5 L283.3,429.5 A5.9,7.9 0 0 1 283.3,445.3 L157,445.3 Z" fill="#fff"/>
<path d="M157,432.4L168,429.5M157,440.1L197,429.5M166.4,445.3L226,429.5M195.4,445.3L255,429.5M224.4,445.3L284,429.5M253.4,445.3L285.3,436.8" stroke="#c6c6c6" stroke-width="1" fill="none"/>
<path d="M157,429.5 L283.3,429.5 M157,445.3 L283.3,445.3" stroke="#bfbfbf" stroke-width="1" fill="none"/>
<ellipse cx="157" cy="437.4" rx="5.9" ry="7.9" fill="#bfbfbf"/>
</g>
<g id="leaders">
<path d="M342,172h1v31h-1zM341,203h1v64h-1zM340,267h1v65h-1zM339,332h1v46h-1zM337,364h5v5h-5zM338,369h3v3h-3zM339,372h2v2h-2z" fill="#000"/>
<path d="M1293,198h1v39h-1zM1292,237h1v53h-1zM1291,277h3v7h-3zM1290,277h1v1h-1z" fill="#000"/>
<path d="M144,523h1v62h-1zM145,585h1v49h-1zM144,527h2v2h-2z M143,529h3v2h-3z M143,531h4v4h-4z" fill="#000"/>
<path d="M604,550h1v64h-1zM605,614h1v51h-1zM604,554h2v2h-2z M603,556h3v2h-3z M603,558h4v4h-4z" fill="#000"/>
</g>
<defs><filter id="bw" x="-5%" y="-30%" width="110%" height="160%" color-interpolation-filters="sRGB"><feComponentTransfer><feFuncA type="discrete" tableValues="0 1"/></feComponentTransfer></filter></defs>
<g id="labels" filter="url(#bw)">
<text class="lat" x="306" y="164.2" font-size="56">PVC Insulation</text>
<text class="lat" x="701.5" y="164.2" font-size="56">PVC</text>
<text class="cjk" x="844" y="166.6" font-size="54">绝缘</text>
<text class="lat" x="1240" y="172.3" font-size="56">PVC Jacket</text>
<text class="lat" x="1558" y="172.3" font-size="56.5">PVC</text>
<text class="cjk" x="1700.5" y="174.5" font-size="54">护套</text>
<text class="lat" x="49" y="672.5" font-size="56">Conductor</text>
<text class="cjk" x="335.5" y="674.5" font-size="54">导体</text>
<text class="lat" x="587.5" y="716.7" font-size="56">Braid Shield</text>
<text class="cjk" x="916" y="719.8" font-size="54">编织屏蔽</text>
</g>
</svg>
</body></html>
